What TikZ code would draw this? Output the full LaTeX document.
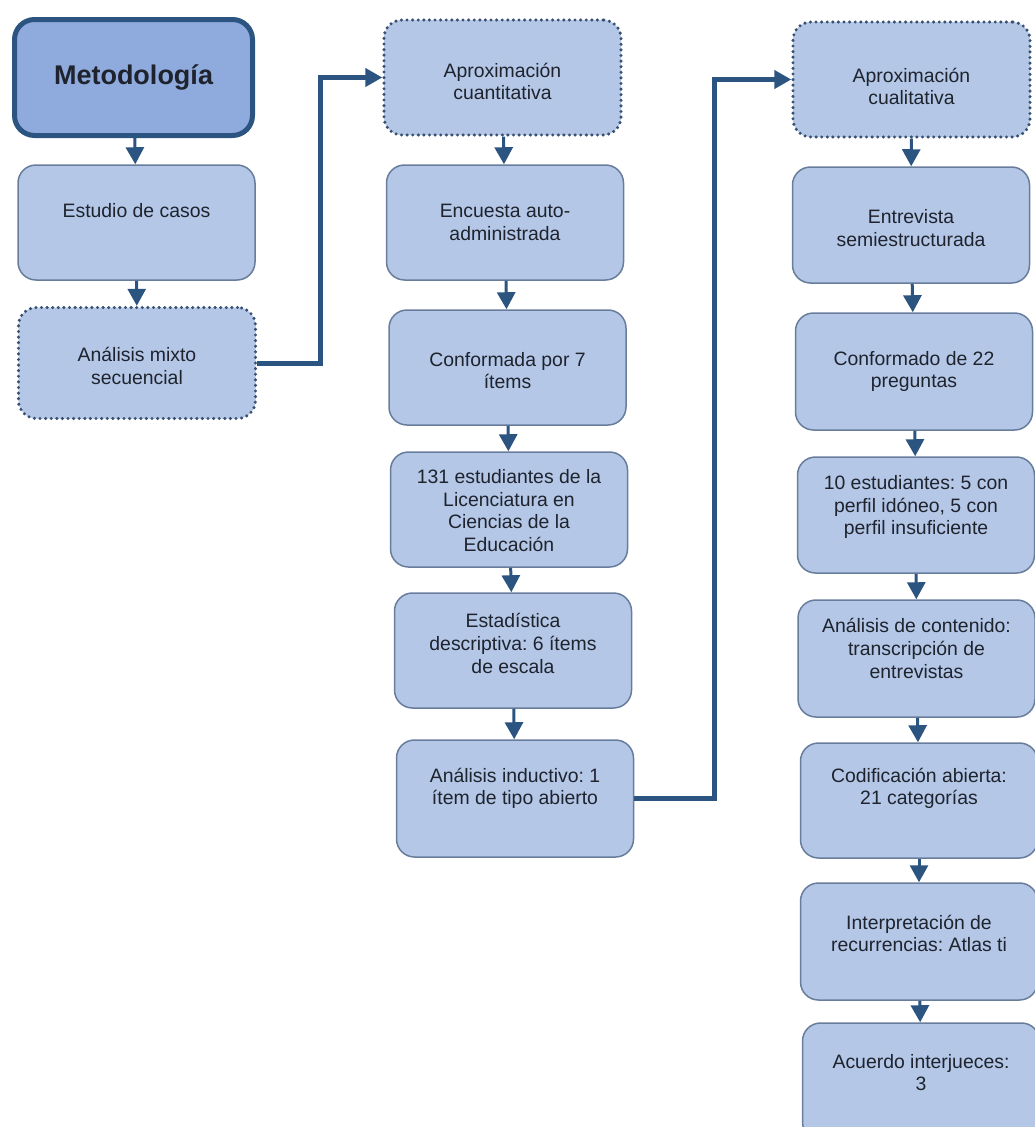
\documentclass[tikz,border=0pt]{standalone}
\usepackage{fontspec}
\setmainfont{Liberation Sans}
\usetikzlibrary{arrows.meta}
\frenchspacing

\definecolor{boxfill}{RGB}{180,199,231}
\definecolor{metfill}{RGB}{143,170,220}
\definecolor{boxline}{RGB}{104,124,156}
\definecolor{linkblue}{RGB}{44,84,128}
\definecolor{dotblue}{RGB}{55,80,115}
\definecolor{ink}{RGB}{30,35,45}

\tikzset{
  stepbox/.style={draw=boxline, fill=boxfill, rounded corners=18pt, line width=1.5pt,
    minimum width=237pt, minimum height=115pt, inner sep=0pt},
  dotbox/.style={stepbox, draw=dotblue, line width=3.4pt, dash pattern=on 0pt off 5.6pt, line cap=round},
  txt/.style={align=center, inner sep=0pt, text=ink, font=\fontsize{19.4}{22.7}\selectfont},
  link/.style={draw=linkblue, line width=5pt, -{Triangle[width=18pt,length=17pt]}},
  down/.style={draw=linkblue, line width=3pt, -{Triangle[width=18pt,length=17pt]}}
}

\begin{document}
\begin{tikzpicture}[x=1pt, y=1pt]
    \useasboundingbox (0,0) rectangle (1035,-1127);

    % columna 1
    \node[stepbox, fill=metfill, draw=linkblue, line width=5pt, minimum width=238pt, minimum height=116pt, rounded corners=20pt] (met) at (133.5,-77.5) {};
    \node[txt, font=\fontsize{27}{30}\selectfont\bfseries] (met-t) at (met.center) {Metodología};
    \node[stepbox] (ec) at (136.5,-222.5) {};
    \node[txt] (ec-t) at ([yshift=12pt]ec.center) {Estudio de casos};
    \node[dotbox, minimum height=111pt] (am) at (137,-363) {};
    \node[txt] (am-t) at ([yshift=-3pt]am.center) {Análisis mixto\\secuencial};

    % columna 2
    \node[dotbox] (aq) at (502.5,-77.5) {};
    \node[txt] (aq-t) at ([yshift=-4pt]aq.center) {Aproximación\\cuantitativa};
    \node[stepbox] (en) at (505,-222.5) {};
    \node[txt] (en-t) at (en.center) {Encuesta auto-\\administrada};
    \node[stepbox] (cf) at (507.5,-367.5) {};
    \node[txt] (cf-t) at ([yshift=-3pt]cf.center) {Conformada por 7\\ítems};
    \node[stepbox] (ce) at (509,-509.5) {};
    \node[txt] (ce-t) at ([yshift=-1pt]ce.center) {131 estudiantes de la\\Licenciatura en\\Ciencias de la\\Educación};
    \node[stepbox] (ed) at (513,-650.5) {};
    \node[txt] (ed-t) at ([yshift=7pt]ed.center) {Estadística\\descriptiva: 6 ítems\\de escala};
    \node[stepbox, minimum height=117pt] (ai) at (515,-798.5) {};
    \node[txt] (ai-t) at ([yshift=10pt]ai.center) {Análisis inductivo: 1\\ítem de tipo abierto};

    % columna 3
    \node[dotbox] (al) at (911.5,-79.5) {};
    \node[txt] (al-t) at ([yshift=-7pt]al.center) {Aproximación\\cualitativa};
    \node[stepbox, minimum height=116pt] (et) at (911,-225) {};
    \node[txt] (et-t) at ([yshift=-3pt]et.center) {Entrevista\\semiestructurada};
    \node[stepbox, minimum height=117pt] (cd) at (914,-371.5) {};
    \node[txt] (cd-t) at (cd.center) {Conformado de 22\\preguntas};
    \node[stepbox, minimum height=116pt] (te) at (916,-515) {};
    \node[txt] (te-t) at ([yshift=8pt]te.center) {10 estudiantes: 5 con\\perfil idóneo, 5 con\\perfil insuficiente};
    \node[stepbox, minimum height=117pt] (ac) at (916.5,-658.5) {};
    \node[txt] (ac-t) at ([yshift=10pt]ac.center) {Análisis de contenido:\\transcripción de\\entrevistas};
    \node[stepbox] (co) at (919,-800.5) {};
    \node[txt] (co-t) at ([yshift=12pt]co.center) {Codificación abierta:\\21 categorías};
    \node[stepbox, minimum height=117pt] (ip) at (919,-941.5) {};
    \node[txt] (ip-t) at ([yshift=8pt]ip.center) {Interpretación de\\recurrencias: Atlas ti};
    \node[stepbox, minimum height=117pt] (aj) at (921,-1081.5) {};
    \node[txt] (aj-t) at ([yshift=9pt]aj.center) {Acuerdo interjueces:\\3};

    % flechas
    \draw[down] (met) -- (ec);
    \draw[down] (ec) -- (am);
    \draw[down] (aq) -- (en);
    \draw[down] (en) -- (cf);
    \draw[down] (cf) -- (ce);
    \draw[down] (ce) -- (ed);
    \draw[down] (ed) -- (ai);
    \draw[down] (al) -- (et);
    \draw[down] (et) -- (cd);
    \draw[down] (cd) -- (te);
    \draw[down] (te) -- (ac);
    \draw[down] (ac) -- (co);
    \draw[down] (co) -- (ip);
    \draw[down] (ip) -- (aj);

    \draw[link] (am.east) -- ++(63,0) |- (aq.west);
    \draw[link] (ai.east) -- ++(80,0) |- (al.west);
\end{tikzpicture}
\end{document}
